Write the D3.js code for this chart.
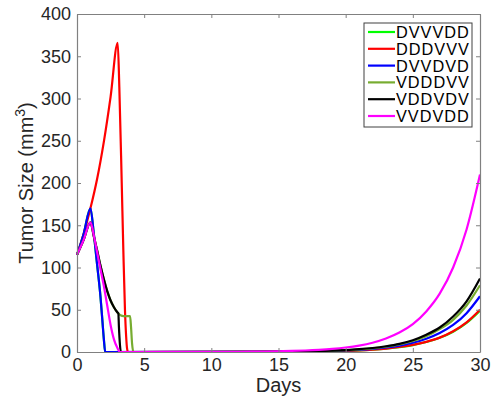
<!DOCTYPE html>
<html>
<head>
<meta charset="utf-8">
<script src="https://cdn.jsdelivr.net/npm/d3@7"></script>
<style>
  html, body { margin: 0; padding: 0; background: #fff; }
  svg { display: block; font-family: "Liberation Sans", Arial, Helvetica, sans-serif; }
</style>
</head>
<body>
<svg id="chart" width="491" height="401"></svg>
<script>
// Tumor size over 30 days for six dosing schedules, [day, mm^3]
const seriesNames = ["DVVVDD", "DDDVVV", "DVVDVD", "VDDDVV", "VDDVDV", "VVDVDD"];
const seriesColors = ["#00ff00", "#ff0000", "#0000ff", "#77ac30", "#000000", "#ff00ff"];

const dvvvdd = [[0,115],[0.5,140],[1,170],[1.25,140],[1.5,103],[1.75,65],[1.9,35],[2,15],[2.1,0],
  [15,0.2],[16,0.3],[17,0.5],[18,0.7],[19,1],[20,1.4],[21,2],[22,2.8],[23,4],[24,5.8],[25,8.2],
  [26,11.8],[27,16.8],[28,24],[29,34.5],[30,49]];
const dddvvv = [[0,115],[0.5,140],[1,170],[1.5,205],[2,249],[2.5,302],[3.03,366],[3.15,314],
  [3.33,200],[3.45,120],[3.57,50],[3.66,18],[3.72,5],[3.8,0],
  [15,0.2],[16,0.3],[17,0.5],[18,0.7],[19,1],[20,1.4],[21,2],[22,2.9],[23,4.1],[24,5.9],[25,8.4],
  [26,12],[27,17],[28,24.5],[29,35],[30,50]];
const dvvdvd = [[0,115],[0.5,140],[1,170],[1.25,140],[1.5,103],[1.75,65],[1.9,35],[2,15],[2.1,0],
  [15,0.3],[16,0.4],[17,0.6],[18,0.9],[19,1.3],[20,1.8],[21,2.6],[22,3.7],[23,5.3],[24,7.6],[25,11],
  [26,15.7],[27,22.5],[28,32],[29,46],[30,66]];
const vdddvv = [[0,115],[0.5,133],[1,153.5],[1.25,137],[1.5,120],[1.75,102],[2,86],[2.25,72],
  [2.5,61],[2.75,53],[3,47],[3.08,45.5],[3.3,43],[3.6,42.3],[3.95,42.5],[4.02,30],[4.1,10],[4.2,0],
  [15,0.3],[16,0.5],[17,0.7],[18,1],[19,1.5],[20,2.1],[21,3],[22,4.3],[23,6.2],[24,9],[25,13],
  [26,18.5],[27,27],[28,38],[29,55],[30,79]];
const vddvdv = [[0,115],[0.5,133],[1,153.5],[1.25,137],[1.5,120],[1.75,102],[2,86],[2.25,72],
  [2.5,61],[2.75,53],[3,47],[3.08,45.5],[3.12,30],[3.2,8],[3.27,0],
  [15,0.35],[16,0.5],[17,0.75],[18,1.1],[19,1.6],[20,2.3],[21,3.3],[22,4.7],[23,6.8],[24,9.7],[25,14],
  [26,20.5],[27,29],[28,42],[29,60],[30,87]];
const vvdvdd = [[0,115],[0.5,133],[1,153.5],[1.25,138],[1.5,118],[1.75,98],[2,78],[2.25,55],
  [2.5,32],[2.75,15],[3,5],[3.2,0],
  [10,0.14],[11,0.2],[12,0.29],[13,0.42],[14,0.6],[15,0.87],[16,1.25],[17,1.8],[18,2.6],[19,3.7],
  [20,5.3],[21,7.6],[22,11],[23,16],[24,23],[25,33],[26,48],[27,69],[28,100],[29,145],[30,210]];
const seriesData = [dvvvdd, dddvvv, dvvdvd, vdddvv, vddvdv, vvdvdd];

const xTicks = [0, 5, 10, 15, 20, 25, 30];
const yTicks = [0, 50, 100, 150, 200, 250, 300, 350, 400];

const svg = d3.select("#chart");
const plotLeft = 77, plotRight = 480, plotTop = 14, plotBottom = 352;
const x = d3.scaleLinear().domain([0, 30]).range([plotLeft, plotRight]);
const y = d3.scaleLinear().domain([0, 400]).range([plotBottom, plotTop]);

const axisColor = "#808080";
const textColor = "#262626";

// lines
const line = d3.line().x(d => x(d[0])).y(d => y(Math.max(0, d[1]))).curve(d3.curveMonotoneX);
svg.append("g").selectAll("path").data(seriesData).join("path")
  .attr("d", line)
  .attr("fill", "none")
  .attr("stroke", (d, i) => seriesColors[i])
  .attr("stroke-width", 2.2)
  .attr("stroke-linejoin", "round");

// axes: ticks pointing inward, mirrored on top and right
function styleAxis(g) {
  g.select(".domain").attr("stroke", axisColor).attr("stroke-width", 1.2);
  g.selectAll(".tick line").attr("stroke", axisColor);
  g.selectAll(".tick text").attr("fill", textColor).attr("font-size", 18)
    .attr("font-family", "'Liberation Sans', Arial, sans-serif");
}
svg.append("g").attr("transform", `translate(0,${plotBottom})`)
  .call(d3.axisBottom(x).tickValues(xTicks).tickSizeInner(-4).tickSizeOuter(0).tickPadding(6))
  .call(styleAxis);
svg.append("g").attr("transform", `translate(0,${plotTop})`)
  .call(d3.axisTop(x).tickValues(xTicks).tickSizeInner(-4).tickSizeOuter(0).tickFormat(""))
  .call(styleAxis);
svg.append("g").attr("transform", `translate(${plotLeft},0)`)
  .call(d3.axisLeft(y).tickValues(yTicks).tickSizeInner(-4).tickSizeOuter(0).tickPadding(6))
  .call(styleAxis);
svg.append("g").attr("transform", `translate(${plotRight},0)`)
  .call(d3.axisRight(y).tickValues(yTicks).tickSizeInner(-4).tickSizeOuter(0).tickFormat(""))
  .call(styleAxis);

// axis titles
svg.append("text").attr("x", (plotLeft + plotRight) / 2).attr("y", 392)
  .attr("text-anchor", "middle").attr("fill", textColor).attr("font-size", 20)
  .text("Days");
const yl = svg.append("text")
  .attr("transform", `translate(33,${(plotTop + plotBottom) / 2}) rotate(-90)`)
  .attr("text-anchor", "middle").attr("fill", textColor).attr("font-size", 20);
yl.append("tspan").text("Tumor Size (mm");
yl.append("tspan").attr("font-size", 14).attr("dy", -8).text("3");
yl.append("tspan").attr("dy", 8).text(")");

// legend
const lg = svg.append("g");
const lx = 364, ly = 23, lw = 108, lh = 104, rowH = 16.8;
lg.append("rect").attr("x", lx).attr("y", ly).attr("width", lw).attr("height", lh)
  .attr("fill", "#fff").attr("stroke", "#404040").attr("stroke-width", 1);
seriesNames.forEach((name, i) => {
  const cy = ly + 9 + i * rowH;
  lg.append("line").attr("x1", lx + 4).attr("x2", lx + 31).attr("y1", cy).attr("y2", cy)
    .attr("stroke", seriesColors[i]).attr("stroke-width", 2.2);
  lg.append("text").attr("x", lx + 32).attr("y", cy + 6)
    .attr("font-size", 16.3).attr("letter-spacing", 1).attr("fill", "#000").text(name);
});
</script>
</body>
</html>
